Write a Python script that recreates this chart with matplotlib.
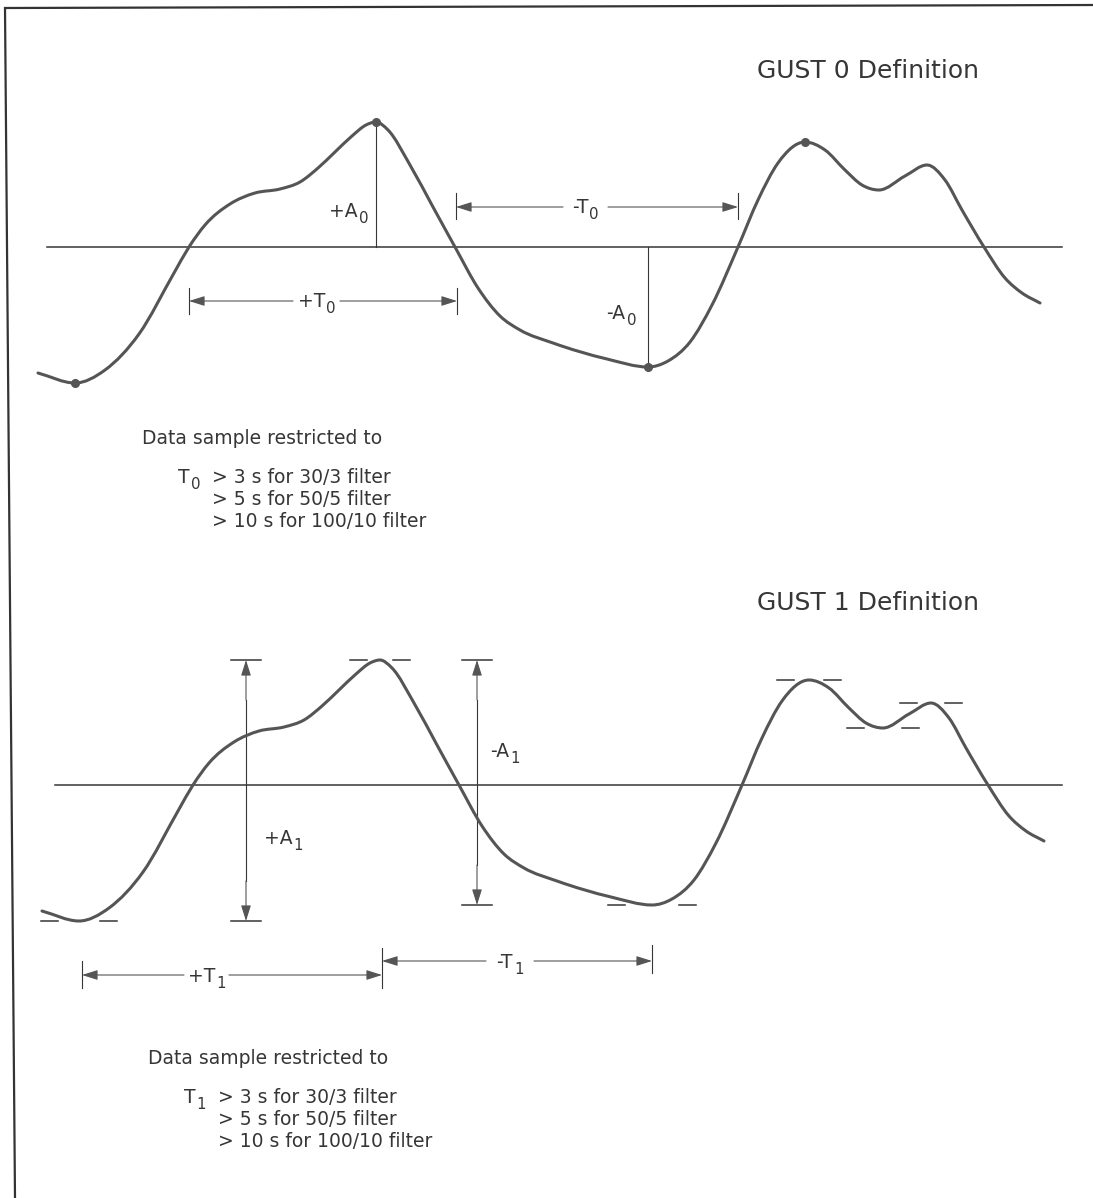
import numpy as np
import matplotlib
matplotlib.use("Agg")
import matplotlib.pyplot as plt
from matplotlib.path import Path
from matplotlib.patches import PathPatch

# Gust trace: time position and amplitude above the mean line
gust_t = [38, 75, 105, 139, 174, 189, 205, 230, 255, 280, 300, 318, 335, 352,
          366, 376, 388, 410, 433, 455, 478, 500, 520, 553, 607, 648, 668, 690, 712,
          738, 758, 778, 805, 825, 845, 862, 879, 905, 927, 945, 962, 984, 1005, 1022, 1040]
gust_amp = [-126, -136, -123, -87, -26, 0, 22, 43, 54, 58, 65, 79, 95, 111,
            122, 125, 117, 82, 40, 0, -41, -69, -83, -96, -112, -120, -114, -95, -58,
            0, 47, 84, 105, 97, 77, 62, 57, 71, 82, 67, 37, 0, -31, -46, -56]

restriction_lines = ["> 3 s for 30/3 filter", "> 5 s for 50/5 filter", "> 10 s for 100/10 filter"]

INK = "#363636"
CURVE = "#555555"
FS = 13.5
plt.rcParams['font.family'] = ['DejaVu Sans']

fig = plt.figure(figsize=(10.93, 11.98), dpi=100)
ax = fig.add_axes([0, 0, 1, 1])
ax.set_xlim(0, 1093)
ax.set_ylim(1198, 0)
ax.axis('off')
renderer = fig.canvas.get_renderer()

t = np.array(gust_t, dtype=float)
amp = np.array(gust_amp, dtype=float)

# zero crossings and local extremes taken from the trace
zero_idx = [i for i in range(len(amp)) if amp[i] == 0]
ext_idx = [i for i in range(1, len(amp) - 1)
           if (amp[i] - amp[i - 1]) * (amp[i + 1] - amp[i]) < 0]

# Hermite slopes at the samples (flat at the extremes) for the Bezier trace
h = np.diff(t)
d = np.diff(amp) / h
slope = np.zeros_like(amp)
slope[0], slope[-1] = d[0], d[-1]
for i in range(1, len(amp) - 1):
    if i not in ext_idx:
        slope[i] = (h[i] * d[i - 1] + h[i - 1] * d[i]) / (h[i - 1] + h[i])


def draw_trace(dx, base):
    x = t + dx
    y = base - amp
    verts = [(x[0], y[0])]
    codes = [Path.MOVETO]
    for i in range(len(t) - 1):
        k = h[i] / 3
        verts += [(x[i] + k, y[i] - slope[i] * k),
                  (x[i + 1] - k, y[i + 1] + slope[i + 1] * k),
                  (x[i + 1], y[i + 1])]
        codes += [Path.CURVE4] * 3
    ax.add_patch(PathPatch(Path(verts, codes), fill=False, edgecolor=CURVE,
                           lw=2.2, capstyle='round', joinstyle='round', zorder=3))
    return x, y


def sub_label(x, y, main, sub, ha='left', size=FS):
    a = ax.text(0, 0, main, fontsize=size, color=INK, va='baseline')
    b = ax.text(0, 0, sub, fontsize=size * 0.8, color=INK, va='baseline')
    wa = a.get_window_extent(renderer).width
    wb = b.get_window_extent(renderer).width
    total = wa + 1 + wb
    left = {'left': x, 'right': x - total, 'center': x - total / 2}[ha]
    a.set_position((left, y))
    b.set_position((left + wa + 1, y + 6))


def arrow(x0, y0, x1, y1):
    ax.annotate('', xy=(x1, y1), xytext=(x0, y0),
                arrowprops=dict(arrowstyle='-|>,head_length=0.95,head_width=0.3',
                                color=CURVE, lw=0.8, mutation_scale=10,
                                shrinkA=0, shrinkB=0))


def tick(x, y0, y1):
    ax.plot([x, x], [y0, y1], color=INK, lw=0.8)


def span(x0, x1, y, g0, g1, main, sub, ly):
    arrow(g0, y, x0, y)
    arrow(g1, y, x1, y)
    sub_label((g0 + g1) / 2, ly, main, sub, ha='center')


def restriction_block(x, y, sym):
    ax.text(x, y, "Data sample restricted to", fontsize=FS, color=INK, va='baseline')
    sub_label(x + 36, y + 39, "T", sym)
    for k, line in enumerate(restriction_lines):
        ax.text(x + 70, y + 39 + 22 * k, line, fontsize=FS, color=INK, va='baseline')


# frame of the page
ax.plot([1093, 5, 15], [5, 8, 1198], color="#333333", lw=1.6, solid_joinstyle='miter')

# ---------------- GUST 0 ----------------
base0, dx0 = 247, 0
x0, y0 = draw_trace(dx0, base0)
ax.plot([47, 1062], [base0, base0], color=INK, lw=1.1, zorder=2)
ax.text(757, 78, "GUST 0 Definition", fontsize=18, color=INK, va='baseline')

pk, mn = ext_idx[1], ext_idx[2]
ax.plot([x0[pk], x0[pk]], [base0, y0[pk]], color=INK, lw=0.8)
ax.plot([x0[mn], x0[mn]], [base0, y0[mn]], color=INK, lw=0.8)
for i in ext_idx[:4]:
    ax.plot(x0[i], y0[i], 'o', color="#555555", ms=5.5, zorder=4)
sub_label(368, 217, "+A", "0", ha='right')
sub_label(636, 319, "-A", "0", ha='right')

c1, c2, c3 = (x0[i] for i in zero_idx[:3])
tick(c1, 288, 314)
tick(c2 + 2, 288, 314)
span(c1, c2 + 2, 301, 293, 340, "+T", "0", 307)
tick(c2 + 1, 193, 219)
tick(c3, 193, 219)
span(c2 + 1, c3, 207, 563, 608, "-T", "0", 213)

restriction_block(142, 444, "0")

# ---------------- GUST 1 ----------------
base1, dx1 = 785, 4
x1, y1 = draw_trace(dx1, base1)
ax.plot([55, 1062], [base1, base1], color=INK, lw=1.1, zorder=2)
ax.text(757, 610, "GUST 1 Definition", fontsize=18, color=INK, va='baseline')

# short level marks either side of each extreme
half_gaps = [21, 13, 27, 15, 19, 14]
for i, g in zip(ext_idx, half_gaps):
    for s in (-1, 1):
        ax.plot([x1[i] + s * g, x1[i] + s * (g + 17)], [y1[i], y1[i]], color=INK, lw=1.1)

m1, p1, m2 = ext_idx[0], ext_idx[1], ext_idx[2]
for xa, lo in ((246, y1[m1]), (477, y1[m2])):
    arrow(xa, y1[p1] + 40, xa, y1[p1])
    arrow(xa, lo - 40, xa, lo)
    ax.plot([xa, xa], [y1[p1] + 40, lo - 40], color=INK, lw=0.8)
    ax.plot([xa - 15, xa + 15], [y1[p1], y1[p1]], color=INK, lw=1.1)
    ax.plot([xa - 15, xa + 15], [lo, lo], color=INK, lw=1.1)
sub_label(264, 844, "+A", "1")
sub_label(490, 757, "-A", "1")

tick(x1[m1] + 3, 961, 988)
tick(x1[p1] + 2, 948, 988)
tick(x1[m2], 945, 973)
span(x1[m1] + 3, x1[p1] + 2, 975, 184, 229, "+T", "1", 982)
span(x1[p1] + 2, x1[m2], 961, 486, 534, "-T", "1", 968)

restriction_block(148, 1064, "1")

fig.savefig("out.png", dpi=100, facecolor='white')
